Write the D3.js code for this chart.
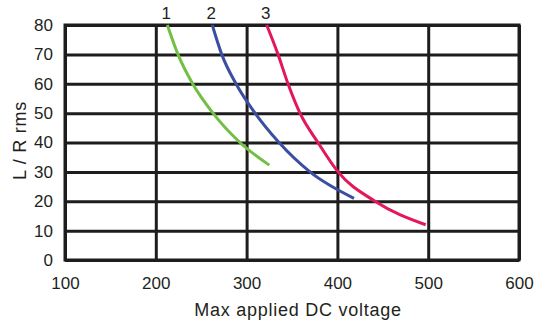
<!DOCTYPE html>
<html><head><meta charset="utf-8">
<script src="https://cdn.jsdelivr.net/npm/d3@7"></script>
<style>
html,body{margin:0;padding:0;background:#fff;}
svg{display:block;font-family:"Liberation Sans",Arial,Helvetica,sans-serif;}
</style></head>
<body><svg id="c" width="536" height="323"></svg>
<script>
const xTicks = [100, 200, 300, 400, 500, 600];
const yTicks = [0, 10, 20, 30, 40, 50, 60, 70, 80];
const seriesNames = ["1", "2", "3"];
const curve1 = [[212.7,80],[224.4,70],[240.6,60],[263,50],[292.7,40],[325,32.3]];
const curve2 = [[262.2,80],[272.6,70],[288.3,60],[309.3,50],[335.7,40],[369.8,30],[418.3,21]];
const curve3 = [[322.1,80],[334.6,70],[345.6,60],[358.8,50],[378.6,40],[400.7,30],[441.4,20],[497.2,12]];
const xTitle = "Max applied DC voltage";
const yTitle = "L / R rms";

const series = [curve1, curve2, curve3];
const colors = ["#72bf44", "#3c4ea0", "#e3175c"];

const svg = d3.select("#c");
const m = {l:65, r:519, t:25, b:260};
const x = d3.scaleLinear().domain([100,600]).range([m.l, m.r]);
const y = d3.scaleLinear().domain([0,80]).range([m.b, m.t]);
const gridColor = "#1e1c1c";
const textColor = "#231f20";

// grid via axes
const gx = svg.append("g").attr("transform",`translate(0,${m.b})`)
  .call(d3.axisBottom(x).tickValues(xTicks).tickSize(-(m.b-m.t)).tickPadding(12).tickFormat(d3.format("d")));
gx.select(".domain").remove();
gx.selectAll("line").attr("stroke",gridColor).attr("stroke-width",3);
gx.selectAll("text").attr("font-size",17).attr("fill",textColor).attr("font-family",null).attr("dy","1.0em");

const gy = svg.append("g").attr("transform",`translate(${m.l},0)`)
  .call(d3.axisLeft(y).tickValues(yTicks).tickSize(-(m.r-m.l)).tickPadding(12));
gy.select(".domain").remove();
gy.selectAll("line").attr("stroke",gridColor).attr("stroke-width",3);
gy.selectAll("text").attr("font-size",17).attr("fill",textColor).attr("font-family",null);

svg.append("rect").attr("x",m.l).attr("y",m.t).attr("width",m.r-m.l).attr("height",m.b-m.t)
  .attr("fill","none").attr("stroke",gridColor).attr("stroke-width",3);

const line = d3.line().x(d=>x(d[0])).y(d=>y(d[1])).curve(d3.curveMonotoneX);
series.forEach((s,i)=>{
  svg.append("path").attr("d",line(s)).attr("fill","none")
    .attr("stroke",colors[i]).attr("stroke-width",3);
  svg.append("text").attr("x",x(s[0][0])-1).attr("y",18.5).attr("text-anchor","middle")
    .attr("font-size",17).attr("fill",textColor).text(seriesNames[i]);
});

svg.append("text").attr("x",(m.l+m.r)/2+6).attr("y",315.5).attr("text-anchor","middle")
  .attr("font-size",18).attr("letter-spacing","0.75px").attr("fill",textColor).text(xTitle);
svg.append("text").attr("transform",`translate(25.5,${(m.t+m.b)/2-2}) rotate(-90)`)
  .attr("text-anchor","middle").attr("font-size",18).attr("letter-spacing","0.75px").attr("fill",textColor).text(yTitle);
</script></body></html>
